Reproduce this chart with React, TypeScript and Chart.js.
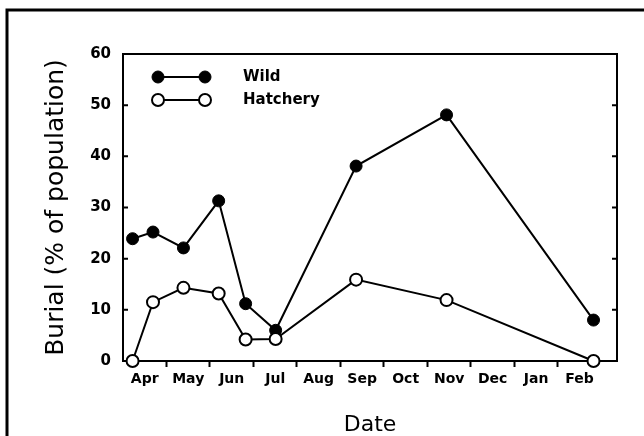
import React, { useEffect, useRef } from "react";
import { Chart, registerables } from "chart.js";

Chart.register(...registerables);

// Month labels on the x axis (each label spans one month, ticks at month boundaries)
const monthLabels = ["Apr", "May", "Jun", "Jul", "Aug", "Sep", "Oct", "Nov", "Dec", "Jan", "Feb"];
// Sampling dates, as months elapsed since 1 April
const sampleMonths = [0.22, 0.69, 1.39, 2.2, 2.82, 3.51, 5.36, 7.44, 10.82];
// Burial (% of population)
const wildValues = [23.9, 25.2, 22.1, 31.3, 11.2, 6.0, 38.1, 48.1, 8.0];
const hatcheryValues = [0, 11.5, 14.3, 13.2, 4.2, 4.3, 15.9, 11.9, 0];
const yTickValues = [0, 10, 20, 30, 40, 50, 60];
const xAxisEnd = 11.36;

const TICK_FONT = "'DejaVu Sans', sans-serif";
const TITLE_FONT = "'DejaVu Sans', sans-serif";

const framePlugin = {
  id: "frame",
  beforeDraw(chart: any) {
    const ctx = chart.ctx;
    ctx.save();
    ctx.fillStyle = "#fff";
    ctx.fillRect(0, 0, chart.width, chart.height);
    ctx.strokeStyle = "#000";
    ctx.lineWidth = 3;
    ctx.beginPath();
    ctx.moveTo(7, chart.height + 10);
    ctx.lineTo(7, 10);
    ctx.lineTo(chart.width + 10, 10);
    ctx.stroke();
    ctx.restore();
  },
  beforeDatasetsDraw(chart: any) {
    const { ctx, chartArea } = chart;
    const y = chart.scales.y;
    ctx.save();
    ctx.strokeStyle = "#000";
    ctx.lineWidth = 2;
    ctx.strokeRect(chartArea.left, chartArea.top, chartArea.right - chartArea.left, chartArea.bottom - chartArea.top);
    ctx.beginPath();
    for (const v of yTickValues) {
      const py = y.getPixelForValue(v);
      ctx.moveTo(chartArea.left, py);
      ctx.lineTo(chartArea.left + 5, py);
      ctx.moveTo(chartArea.right, py);
      ctx.lineTo(chartArea.right - 5, py);
    }
    ctx.stroke();
    ctx.restore();
  },
  afterDatasetsDraw(chart: any) {
    const ctx = chart.ctx;
    const rows = [
      { ds: chart.data.datasets[0], y: 77 },
      { ds: chart.data.datasets[1], y: 100 },
    ];
    ctx.save();
    for (const r of rows) {
      const ds: any = r.ds;
      ctx.strokeStyle = "#000";
      ctx.lineWidth = 2;
      ctx.beginPath();
      ctx.moveTo(158, r.y);
      ctx.lineTo(205, r.y);
      ctx.stroke();
      for (const px of [158, 205]) {
        ctx.beginPath();
        ctx.arc(px, r.y, ds.pointRadius, 0, Math.PI * 2);
        ctx.fillStyle = ds.pointBackgroundColor;
        ctx.fill();
        ctx.lineWidth = ds.pointBorderWidth;
        ctx.stroke();
      }
      ctx.fillStyle = "#000";
      ctx.font = `bold 15px ${TICK_FONT}`;
      ctx.textBaseline = "middle";
      ctx.textAlign = "left";
      ctx.fillText(ds.label, 243, r.y);
    }
    ctx.restore();
  },
};

export default function App() {
  const ref = useRef<HTMLCanvasElement | null>(null);

  useEffect(() => {
    if (!ref.current) return;
    const toPoints = (vals: number[]) => vals.map((v, i) => ({ x: sampleMonths[i], y: v }));
    const chart = new Chart(ref.current, {
      type: "line",
      data: {
        datasets: [
          {
            label: "Wild",
            data: toPoints(wildValues),
            borderColor: "#000",
            borderWidth: 2,
            pointRadius: 6,
            pointBackgroundColor: "#000",
            pointBorderColor: "#000",
            pointBorderWidth: 1,
            tension: 0,
            clip: false,
            order: 1,
          } as any,
          {
            label: "Hatchery",
            data: toPoints(hatcheryValues),
            borderColor: "#000",
            borderWidth: 2,
            pointRadius: 6,
            pointBackgroundColor: "#fff",
            pointBorderColor: "#000",
            pointBorderWidth: 2,
            tension: 0,
            clip: false,
            order: 0,
          } as any,
        ],
      },
      options: {
        animation: false,
        responsive: false,
        devicePixelRatio: 1,
        layout: { padding: { top: 54, right: 27, left: 0, bottom: 0 } },
        plugins: { legend: { display: false }, tooltip: { enabled: false } },
        scales: {
          x: {
            type: "linear",
            min: 0,
            max: xAxisEnd,
            afterBuildTicks: (s: any) => {
              const t: any[] = [];
              for (let i = 0; i < monthLabels.length; i++) {
                if (i > 0) t.push({ value: i });
                t.push({ value: i + 0.5 });
              }
              s.ticks = t;
            },
            ticks: {
              autoSkip: false,
              maxRotation: 0,
              minRotation: 0,
              padding: 4,
              color: "#000",
              font: { family: TICK_FONT, size: 14, weight: "bold" },
              callback: (v: any) => {
                const i = Number(v) - 0.5;
                return Number.isInteger(i) ? monthLabels[i] : "";
              },
            },
            grid: {
              drawOnChartArea: false,
              drawTicks: true,
              tickLength: 6,
              tickWidth: 2,
              tickColor: (c: any) =>
                c.tick && Number.isInteger(c.tick.value) ? "#000" : "rgba(0,0,0,0)",
            },
            border: { display: false },
            title: {
              display: true,
              text: "Date",
              color: "#000",
              font: { family: TITLE_FONT, size: 22, lineHeight: 1 },
              padding: { top: 0, bottom: 0 },
            },
            afterFit: (s: any) => {
              s.height = 75;
            },
          } as any,
          y: {
            min: 0,
            max: 60,
            afterBuildTicks: (s: any) => {
              s.ticks = yTickValues.map((v) => ({ value: v }));
            },
            ticks: {
              padding: 12,
              color: "#000",
              font: { family: TICK_FONT, size: 15, weight: "bold" },
            },
            grid: { drawOnChartArea: false, drawTicks: false },
            border: { display: false },
            title: {
              display: true,
              text: "Burial (% of population)",
              color: "#000",
              font: { family: TITLE_FONT, size: 25, lineHeight: 1 },
              padding: { top: 44, bottom: 0 },
            },
            afterFit: (s: any) => {
              s.width = 123;
            },
          } as any,
        },
      },
      plugins: [framePlugin],
    });
    return () => chart.destroy();
  }, []);

  return (
    <div style={{ position: "absolute", left: 0, top: 0, width: 644, height: 436, background: "#fff" }}>
      <canvas ref={ref} width={644} height={436} style={{ display: "block", width: 644, height: 436 }} />
    </div>
  );
}
